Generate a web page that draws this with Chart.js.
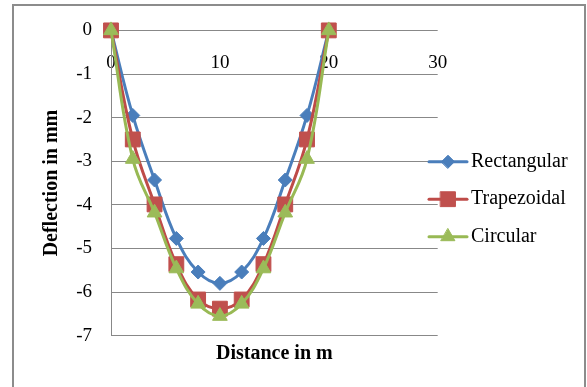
<!DOCTYPE html>
<html>
<head>
<meta charset="utf-8">
<script src="https://cdn.jsdelivr.net/npm/chart.js@4.4.0/dist/chart.umd.min.js"></script>
<style>
  html, body { margin: 0; padding: 0; background: #fff; }
  #wrap { position: relative; width: 587px; height: 387px; overflow: hidden; }
  #frame {
    position: absolute; left: 12px; top: 4px; width: 574px; height: 430px;
    border: 2px solid #8c8c8c; box-sizing: border-box; pointer-events: none;
  }
</style>
</head>
<body>
<div id="wrap">
  <canvas id="c"></canvas>
  <div id="frame"></div>
</div>
<script>
// Deflection profile along the span (m) for three cross-section shapes (mm)
const distance    = [0, 2, 4, 6, 8, 10, 12, 14, 16, 18, 20];
const rectangular = [0, -1.95, -3.43, -4.77, -5.54, -5.8, -5.54, -4.77, -3.43, -1.95, 0];
const trapezoidal = [0, -2.5, -3.99, -5.36, -6.17, -6.38, -6.17, -5.36, -3.99, -2.5, 0];
const circular    = [0, -2.95, -4.18, -5.46, -6.27, -6.55, -6.27, -5.46, -4.18, -2.95, 0];

const seriesNames = ['Rectangular', 'Trapezoidal', 'Circular'];
const xTicks = [0, 10, 20, 30];
const yTicks = [0, -1, -2, -3, -4, -5, -6, -7];

const SERIF = '"Liberation Serif", "Times New Roman", serif';
const GRID = '#888888';

function toPoints(ys) {
  return distance.map((x, i) => ({ x: x, y: ys[i] }));
}

// Key drawn at the right: line sample with marker, then the series name
const seriesKey = {
  id: 'seriesKey',
  afterDraw(chart) {
    const ctx = chart.ctx;
    const x0 = 429, x1 = 467, textX = 471;
    const firstRow = 161.7, rowStep = 37.5;
    chart.data.datasets.forEach((ds, i) => {
      const y = firstRow + i * rowStep;
      ctx.save();
      ctx.strokeStyle = ds.borderColor;
      ctx.lineWidth = ds.borderWidth;
      ctx.lineCap = 'round';
      ctx.beginPath();
      ctx.moveTo(x0, y);
      ctx.lineTo(x1, y);
      ctx.stroke();
      ctx.fillStyle = ds.pointBackgroundColor;
      ctx.strokeStyle = ds.pointBorderColor;
      ctx.lineWidth = 1;
      Chart.helpers.drawPoint(ctx, {
        pointStyle: ds.pointStyle,
        radius: ds.legendRadius,
        rotation: 0,
        borderWidth: 1
      }, (x0 + x1) / 2, y);
      ctx.fillStyle = '#000';
      ctx.font = '20px ' + SERIF;
      ctx.textBaseline = 'middle';
      ctx.textAlign = 'left';
      ctx.fillText(ds.label, textX, y);
      ctx.restore();
    });
  }
};

const common = {
  borderWidth: 3,
  tension: 0.4,
  clip: false,
  pointBorderWidth: 1,
  pointHoverRadius: 0
};

new Chart(document.getElementById('c'), {
  type: 'line',
  data: {
    datasets: [
      Object.assign({}, common, {
        label: seriesNames[0],
        data: toPoints(rectangular),
        borderColor: '#4A7EBB',
        pointBackgroundColor: '#4A7EBB',
        pointBorderColor: '#4A7EBB',
        pointStyle: 'rectRot',
        pointRadius: 7,
        legendRadius: 6.5,
        order: 3
      }),
      Object.assign({}, common, {
        label: seriesNames[1],
        data: toPoints(trapezoidal),
        borderColor: '#BE4B48',
        pointBackgroundColor: '#C0504D',
        pointBorderColor: '#C0504D',
        pointStyle: 'rect',
        pointRadius: 10.5,
        legendRadius: 10.5,
        order: 2
      }),
      Object.assign({}, common, {
        label: seriesNames[2],
        data: toPoints(circular),
        borderColor: '#98B954',
        pointBackgroundColor: '#9BBB59',
        pointBorderColor: '#9BBB59',
        pointStyle: 'triangle',
        pointRadius: 8.5,
        legendRadius: 8,
        order: 1
      })
    ]
  },
  options: {
    responsive: true,
    maintainAspectRatio: false,
    animation: false,
    events: [],
    layout: { padding: { left: 0, top: 29, right: 149.3, bottom: 21.5 } },
    plugins: {
      legend: { display: false },
      tooltip: { enabled: false },
      title: {
        display: true,
        position: 'bottom',
        fullSize: false,
        text: 'Distance in m',
        color: '#000',
        font: { family: SERIF, size: 20, weight: 'bold', lineHeight: 1.2 },
        padding: { top: 5.8, bottom: 0 }
      }
    },
    scales: {
      x: {
        type: 'linear',
        position: { y: 0 },
        min: 0,
        max: 30,
        afterBuildTicks: s => { s.ticks = xTicks.map(v => ({ value: v })); },
        grid: { display: false },
        border: { display: false },
        ticks: {
          color: '#000',
          font: { family: SERIF, size: 19 },
          padding: 13.5,
          maxRotation: 0
        }
      },
      y: {
        type: 'linear',
        min: -7,
        max: 0,
        afterBuildTicks: s => { s.ticks = yTicks.map(v => ({ value: v })); },
        afterFit: s => { s.width = 111; },
        grid: { color: GRID, lineWidth: 1, drawTicks: false },
        border: { display: true, color: GRID, width: 1 },
        ticks: {
          color: '#000',
          font: { family: SERIF, size: 19 },
          padding: 19
        },
        title: {
          display: true,
          text: 'Deflection in mm',
          color: '#000',
          font: { family: SERIF, size: 20, weight: 'bold', lineHeight: 1.2 },
          padding: { top: 40, bottom: 0 }
        }
      }
    }
  },
  plugins: [seriesKey]
});
</script>
</body>
</html>
